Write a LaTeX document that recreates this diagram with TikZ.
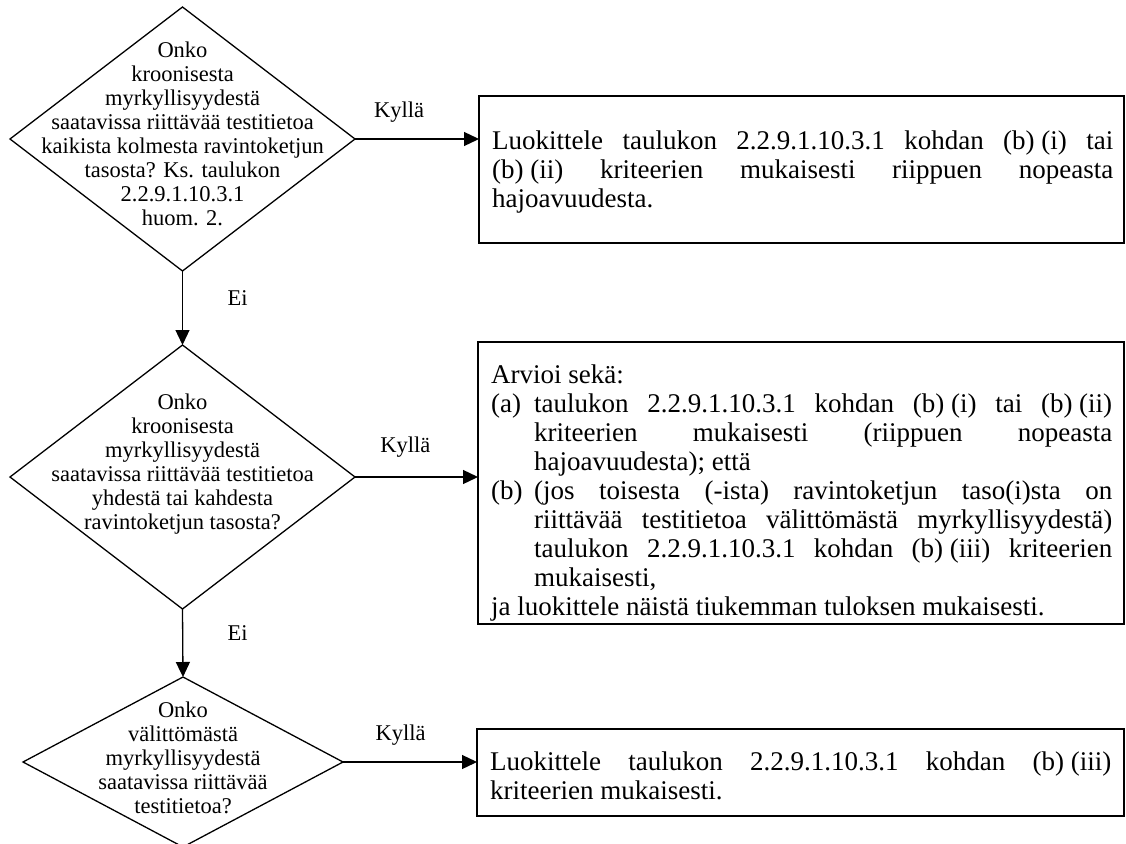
\documentclass[tikz,border=0pt]{standalone}
\usepackage{fontspec}
\setmainfont{Liberation Serif}
\usetikzlibrary{shapes.geometric,arrows.meta}
\newcommand{\nbk}{\kern0.25em}
\begin{document}
\begin{tikzpicture}[x=1pt,y=-1pt,
  dia/.style={diamond, draw, line width=1.3pt, inner sep=0pt, outer sep=0pt},
  dtext/.style={align=center, font=\fontsize{22.5}{24}\selectfont, inner sep=0pt},
  box/.style={rectangle, draw, line width=1.5pt, inner sep=0pt, outer sep=0pt, anchor=north west},
  btext/.style={anchor=north west, text width=621pt, align=justify, font=\fontsize{27}{29}\selectfont, inner sep=0pt},
  lab/.style={font=\fontsize{22.5}{24}\selectfont, inner sep=0pt},
  arr/.style={line width=1.3pt, -{Triangle[length=15pt,width=14pt]}}
]
\useasboundingbox (0,0) rectangle (1126,843);
\clip (0,0) rectangle (1126,843);
\fill[white] (0,0) rectangle (1126,843);

% diamonds
\node[dia, minimum width=345pt, minimum height=264pt] (d1) at (182.5,139) {};
\node[dia, minimum width=345pt, minimum height=264pt] (d2) at (182.5,477) {};
\node[dia, minimum width=320pt, minimum height=170pt] (d3) at (183,762) {};

\node[dtext] (d1t) at ([yshift=5pt]d1.center) {Onko\\kroonisesta\\myrkyllisyydestä\\saatavissa riittävää testitietoa\\kaikista kolmesta ravintoketjun\\tasosta? Ks. taulukon\\2.2.9.1.10.3.1\\huom. 2.};
\node[dtext] (d2t) at ([yshift=13pt]d2.center) {Onko\\kroonisesta\\myrkyllisyydestä\\saatavissa riittävää testitietoa\\yhdestä tai kahdesta\\ravintoketjun tasosta?};
\node[dtext] (d3t) at ([yshift=4pt]d3.center) {Onko\\välittömästä\\myrkyllisyydestä\\saatavissa riittävää\\testitietoa?};

% boxes
\node[box, minimum width=645pt, minimum height=147pt] (b1) at (479,96) {};
\node[box, minimum width=646pt, minimum height=282pt] (b2) at (478,342) {};
\node[box, minimum width=647pt, minimum height=87pt] (b3) at (477,729) {};

\node[btext] (b1t) at ([xshift=13pt,yshift=-33pt]b1.north west) {\strut Luokittele taulukon 2.2.9.1.10.3.1 kohdan (b)\nbk(i) tai\linebreak (b)\nbk(ii) kriteerien mukaisesti riippuen nopeasta\linebreak hajoavuudesta.};

\node[btext] (b2t) at ([xshift=13pt,yshift=-21pt]b2.north west) {\strut Arvioi sekä:\par
\hangindent=43pt \hangafter=1 \noindent\makebox[43pt][l]{(a)}taulukon 2.2.9.1.10.3.1 kohdan (b)\nbk(i) tai (b)\nbk(ii)\linebreak kriteerien mukaisesti (riippuen nopeasta\linebreak hajoavuudesta); että\par
\hangindent=43pt \hangafter=1 \noindent\makebox[43pt][l]{(b)}(jos toisesta (-ista) ravintoketjun taso(i)sta on\linebreak riittävää testitietoa välittömästä myrkyllisyydestä)\linebreak taulukon 2.2.9.1.10.3.1 kohdan (b)\nbk(iii) kriteerien\linebreak mukaisesti,\par
\noindent ja luokittele näistä tiukemman tuloksen mukaisesti.};

\node[btext] (b3t) at ([xshift=13pt,yshift=-21pt]b3.north west) {\strut Luokittele taulukon 2.2.9.1.10.3.1 kohdan (b)\nbk(iii)\linebreak kriteerien mukaisesti.};

% connectors
\draw[arr] (d1.east) -- node[lab, pos=0.355, yshift=27pt] (k1) {Kyllä} (d1.east -| b1.west);
\draw[arr] (d2.east) -- node[lab, pos=0.41, yshift=30pt] (k2) {Kyllä} (d2.east -| b2.west);
\draw[arr] (d3.east) -- node[lab, pos=0.43, yshift=27pt] (k3) {Kyllä} (d3.east -| b3.west);

\draw[arr] (d1.south) -- node[lab, pos=0.365, xshift=55pt] (e1) {Ei} (d2.north);
\draw[arr] (d2.south) -- node[lab, pos=0.36, xshift=55pt] (e2) {Ei} (d3.north);
\end{tikzpicture}
\end{document}
